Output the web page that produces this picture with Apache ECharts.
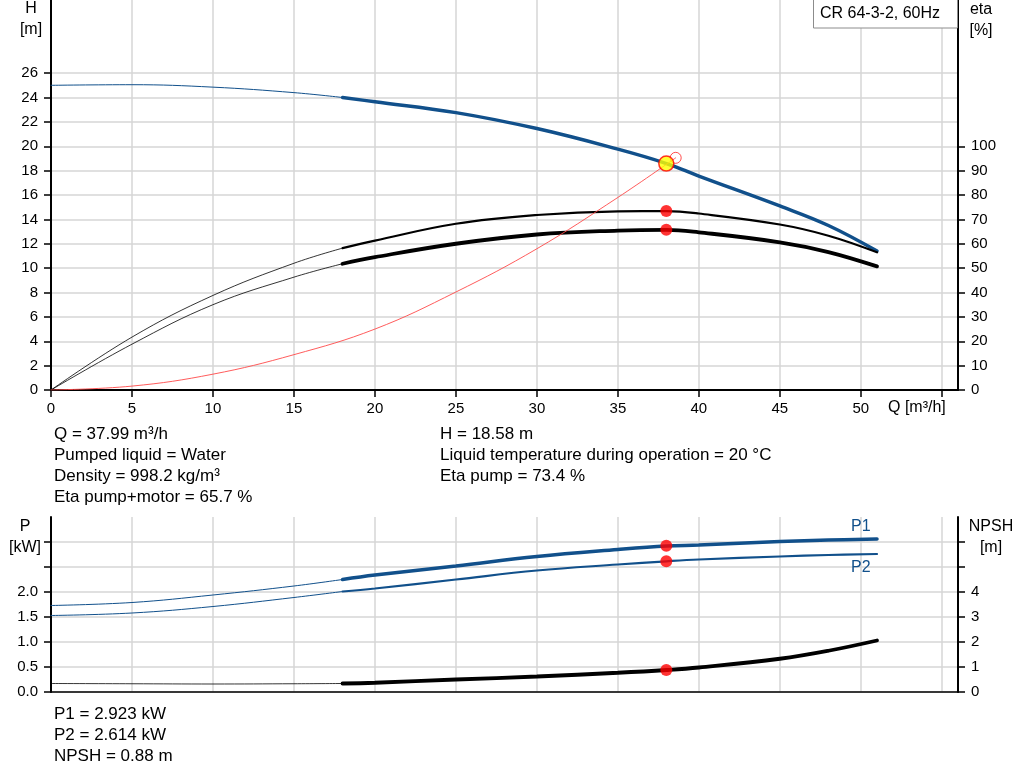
<!DOCTYPE html>
<html>
<head>
<meta charset="utf-8">
<script src="https://cdn.jsdelivr.net/npm/echarts@6/dist/echarts.min.js"></script>
<style>
html,body{margin:0;padding:0;background:#fff;}
#c{width:1024px;height:781px;}
</style>
</head>
<body>
<div id="c"></div>
<script>
// ---- data ----
const qPts      = [0, 5, 10, 15, 18, 20, 25, 30, 35, 38, 40, 45, 48, 51];
const headH     = [25.0, 25.05, 24.85, 24.4, 24.0, 23.65, 22.76, 21.45, 19.76, 18.58, 17.55, 15.1, 13.5, 11.4];
const etaPump   = [0, 21.7, 38.8, 52, 58.2, 61.3, 68.2, 71.8, 73.3, 73.4, 72.4, 67.9, 63.3, 56.5];
const etaTotal  = [0, 18.8, 35, 46.3, 51.8, 54.5, 60, 63.8, 65.4, 65.7, 64.7, 60.6, 56.6, 50.7];
const powerP1   = [1.73, 1.79, 1.94, 2.12, 2.25, 2.34, 2.52, 2.71, 2.85, 2.92, 2.94, 3.01, 3.04, 3.06];
const powerP2   = [1.53, 1.58, 1.71, 1.89, 2.01, 2.07, 2.25, 2.43, 2.55, 2.614, 2.65, 2.71, 2.74, 2.76];
const npshVals  = [0.34, 0.33, 0.32, 0.33, 0.34, 0.37, 0.5, 0.62, 0.77, 0.88, 0.98, 1.33, 1.65, 2.06];
const sysQ      = [0, 5, 10, 15, 20, 25, 30, 35, 38.57];
const sysH      = [0, 0.32, 1.3, 2.9, 5.0, 8.04, 11.59, 15.8, 19.05];
const opQ = 37.99, opH = 18.58, opEtaPump = 73.4, opEtaTotal = 65.7;
const opP1 = 2.923, opP2 = 2.614, opNpsh = 0.88;
const thickFrom = 18;

const qTicks     = [0, 5, 10, 15, 20, 25, 30, 35, 40, 45, 50, 55];
const qLabels    = [0, 5, 10, 15, 20, 25, 30, 35, 40, 45, 50];
const hTicks     = [0, 2, 4, 6, 8, 10, 12, 14, 16, 18, 20, 22, 24, 26];
const etaTicks   = [0, 10, 20, 30, 40, 50, 60, 70, 80, 90, 100];
const pTicks     = [0, 0.5, 1.0, 1.5, 2.0, 2.5, 3.0];
const pLabels    = [0, 0.5, 1.0, 1.5, 2.0];
const npshTicks  = [0, 1, 2, 3, 4, 5, 6];
const npshLabels = [0, 1, 2, 3, 4];

const infoTop    = ['Q = 37.99 m³/h', 'Pumped liquid = Water', 'Density = 998.2 kg/m³', 'Eta pump+motor = 65.7 %'];
const infoTopR   = ['H = 18.58 m', 'Liquid temperature during operation = 20 °C', 'Eta pump = 73.4 %'];
const infoBottom = ['P1 = 2.923 kW', 'P2 = 2.614 kW', 'NPSH = 0.88 m'];
const titleText  = 'CR 64-3-2, 60Hz';

// ---- build ----
const FONT = '"Liberation Sans", Arial, sans-serif';
const BLUE = '#11508b';
const pairs = (ys) => qPts.map((q, i) => [q, ys[i]]);
const thin  = (ys) => pairs(ys).filter(p => p[0] <= thickFrom);
const thick = (ys) => pairs(ys).filter(p => p[0] >= thickFrom);

function lineSeries(data, color, width, xi, yi, z) {
  return {
    type: 'line', data, xAxisIndex: xi, yAxisIndex: yi,
    smooth: 0.4, showSymbol: false, symbol: 'none',
    lineStyle: { color, width, cap: 'round' }, z: z || 2, silent: true
  };
}
function dot(pt, xi, yi, size, style, z) {
  return { type: 'scatter', data: [pt], xAxisIndex: xi, yAxisIndex: yi,
    symbolSize: size, itemStyle: style, z: z || 5, silent: true };
}

const gridLine = { show: true, lineStyle: { color: '#d6d6d6', width: 1.5 } };
const axisLineBlack = { show: true, lineStyle: { color: '#000', width: 2 } };
const lblStyle = { color: '#000', fontSize: 15, fontFamily: FONT };
const tick = (vals) => ({ show: true, length: 7, lineStyle: { color: '#000', width: 1.5 }, customValues: vals });

const option = {
  animation: false,
  backgroundColor: '#fff',
  grid: [
    { left: 51, top: 0, width: 907, height: 390 },
    { left: 51, top: 517, width: 907, height: 175 }
  ],
  xAxis: [
    { type: 'value', gridIndex: 0, min: 0, max: 56, interval: 5,
      axisLine: axisLineBlack,
      axisTick: tick(qTicks),
      axisLabel: Object.assign({ margin: 11, customValues: qLabels }, lblStyle),
      splitLine: gridLine },
    { type: 'value', gridIndex: 1, min: 0, max: 56, interval: 5,
      axisLine: { show: true, lineStyle: { color: '#000', width: 1.5 } },
      axisTick: { show: false }, axisLabel: { show: false },
      splitLine: gridLine }
  ],
  yAxis: [
    { type: 'value', gridIndex: 0, min: 0, max: 32, interval: 2, position: 'left',
      axisLine: axisLineBlack,
      axisTick: tick(hTicks),
      axisLabel: Object.assign({ margin: 13, customValues: hTicks }, lblStyle),
      splitLine: gridLine },
    { type: 'value', gridIndex: 0, min: 0, max: 160, interval: 10, position: 'right',
      axisLine: axisLineBlack,
      axisTick: tick(etaTicks),
      axisLabel: Object.assign({ margin: 13, customValues: etaTicks }, lblStyle),
      splitLine: { show: false } },
    { type: 'value', gridIndex: 1, min: 0, max: 3.5, interval: 0.5, position: 'left',
      axisLine: axisLineBlack,
      axisTick: tick(pTicks),
      axisLabel: Object.assign({ margin: 13, customValues: pLabels, formatter: v => Number(v).toFixed(1) }, lblStyle),
      splitLine: gridLine },
    { type: 'value', gridIndex: 1, min: 0, max: 7, interval: 1, position: 'right',
      axisLine: axisLineBlack,
      axisTick: tick(npshTicks),
      axisLabel: Object.assign({ margin: 13, customValues: npshLabels }, lblStyle),
      splitLine: { show: false } }
  ],
  series: [
    lineSeries(thin(headH), BLUE, 1, 0, 0),
    lineSeries(thick(headH), BLUE, 3.5, 0, 0),
    lineSeries(thin(etaPump), '#000', 0.8, 0, 1),
    lineSeries(thick(etaPump), '#000', 2.2, 0, 1),
    lineSeries(thin(etaTotal), '#000', 0.8, 0, 1),
    lineSeries(thick(etaTotal), '#000', 3.8, 0, 1),
    lineSeries(sysQ.map((q, i) => [q, sysH[i]]), '#ff4a4a', 0.9, 0, 0, 3),
    dot([sysQ[sysQ.length - 1], sysH[sysH.length - 1]], 0, 0, 11,
        { color: 'rgba(255,255,255,0)', borderColor: '#ff2020', borderWidth: 1 }, 4),
    dot([opQ, opH], 0, 0, 15, { color: '#ffff00', borderColor: '#ff0000', borderWidth: 1.5 }, 6),
    dot([opQ, opEtaPump], 0, 1, 12, { color: '#ff0000' }),
    dot([opQ, opEtaTotal], 0, 1, 12, { color: '#ff0000' }),

    lineSeries(thin(powerP1), BLUE, 1, 1, 2),
    lineSeries(thick(powerP1), BLUE, 3.5, 1, 2),
    lineSeries(thin(powerP2), BLUE, 1, 1, 2),
    lineSeries(thick(powerP2), BLUE, 2.2, 1, 2),
    lineSeries(thin(npshVals), '#000', 0.8, 1, 3),
    lineSeries(thick(npshVals), '#000', 3.8, 1, 3),
    dot([opQ, opP1], 1, 2, 12, { color: '#ff0000' }),
    dot([opQ, opP2], 1, 2, 12, { color: '#ff0000' }),
    dot([opQ, opNpsh], 1, 3, 12, { color: '#ff0000' })
  ],
  graphic: []
};

function txt(text, x, y, opts) {
  opts = opts || {};
  return { type: 'text', z: 100, silent: true,
    style: { text, x, y, fill: opts.color || '#000',
      font: (opts.size || 15) + 'px ' + FONT,
      align: opts.align || 'left', verticalAlign: 'middle' } };
}
const g = option.graphic;
// title box
g.push({ type: 'rect', z: 99, silent: true, shape: { x: 813.5, y: -1, width: 144, height: 29 },
  style: { fill: '#fff', stroke: '#8c8c8c', lineWidth: 1 } });
g.push(txt(titleText, 820, 14, { size: 16 }));
// axis names
g.push(txt('H', 31, 9, { align: 'center', size: 16 }));
g.push(txt('[m]', 31, 30, { align: 'center', size: 16 }));
g.push(txt('eta', 981, 10, { align: 'center', size: 16 }));
g.push(txt('[%]', 981, 31, { align: 'center', size: 16 }));
g.push(txt('Q [m³/h]', 888, 408, { size: 16 }));
g.push(txt('P', 25, 527, { align: 'center', size: 16 }));
g.push(txt('[kW]', 25, 548, { align: 'center', size: 16 }));
g.push(txt('NPSH', 991, 527, { align: 'center', size: 16 }));
g.push(txt('[m]', 991, 548, { align: 'center', size: 16 }));
g.push(txt('P1', 851, 527, { color: BLUE, size: 16 }));
g.push(txt('P2', 851, 568, { color: BLUE, size: 16 }));
// info text
infoTop.forEach((t, i) => g.push(txt(t, 54, 434 + i * 21, { size: 17 })));
infoTopR.forEach((t, i) => g.push(txt(t, 440, 434 + i * 21, { size: 17 })));
infoBottom.forEach((t, i) => g.push(txt(t, 54, 714 + i * 21, { size: 17 })));

const chart = echarts.init(document.getElementById('c'), null, { renderer: 'canvas' });
chart.setOption(option);
</script>
</body>
</html>
